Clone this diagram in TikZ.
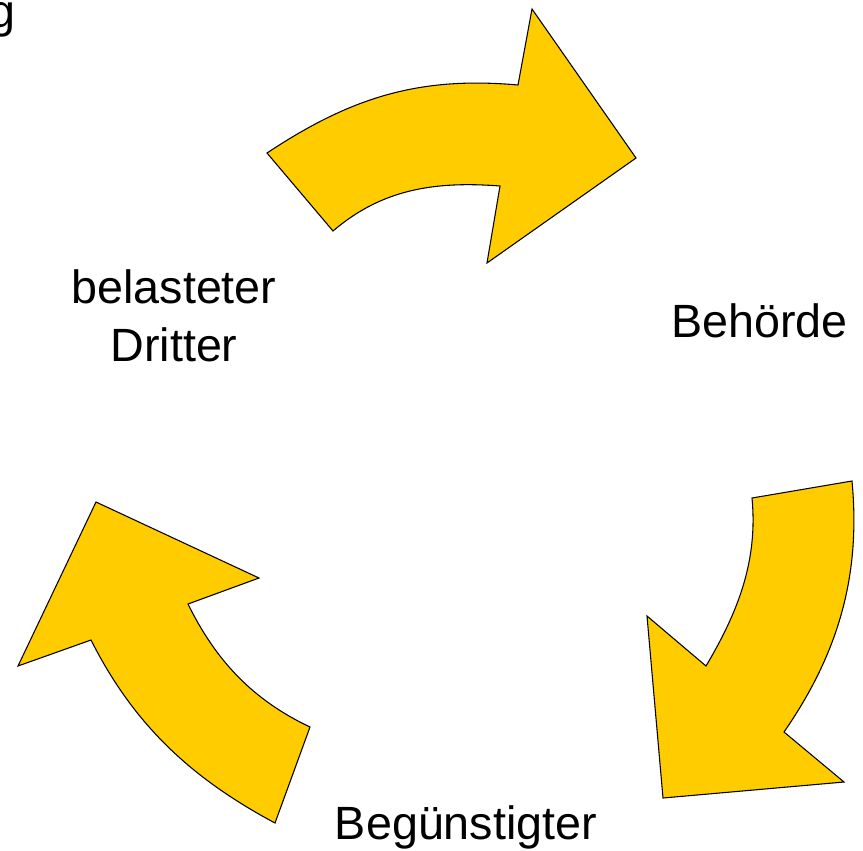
\documentclass[tikz,border=0pt]{standalone}
\usepackage{fontspec}
\setmainfont{Liberation Sans}
\definecolor{arrowfill}{HTML}{FFCC00}
\begin{document}
\begin{tikzpicture}[x=0.75pt,y=-0.75pt,
  bigarrow/.style={fill=arrowfill,draw=black,line width=0.8pt,line join=miter},
  lbl/.style={inner sep=0pt,font=\fontsize{35}{43.5}\selectfont,align=center}]
\useasboundingbox (0,0) rectangle (863,850);
% top arrow
\path[bigarrow] (267,153) .. controls (350,98) and (418,76) .. (518,85)
  -- (532,9) -- (636,158) -- (487,263) -- (500,186)
  .. controls (435,181) and (382,189) .. (333,231) -- cycle;
% right arrow
\path[bigarrow] (752,498) -- (852,481) .. controls (861,576) and (838,654) .. (784,732)
  -- (844,782) -- (663,798) -- (647,616) -- (706,666)
  .. controls (738,612) and (758,561) .. (752,498) -- cycle;
% left arrow
\path[bigarrow] (96,502) -- (259,578) -- (188,604)
  .. controls (216,661) and (253,700) .. (310,727)
  -- (275,823) .. controls (191,778) and (134,725) .. (91,640)
  -- (18,666) -- cycle;
% labels
\node[lbl,anchor=base west] (g) at (-11,27) {g};
\node[lbl,anchor=base] (dritter) at (174,361) {belasteter\\Dritter};
\node[lbl,anchor=base] (behoerde) at (759.5,337) {Behörde};
\node[lbl,anchor=base] (beg) at (466,839) {Begünstigter};
\end{tikzpicture}
\end{document}
